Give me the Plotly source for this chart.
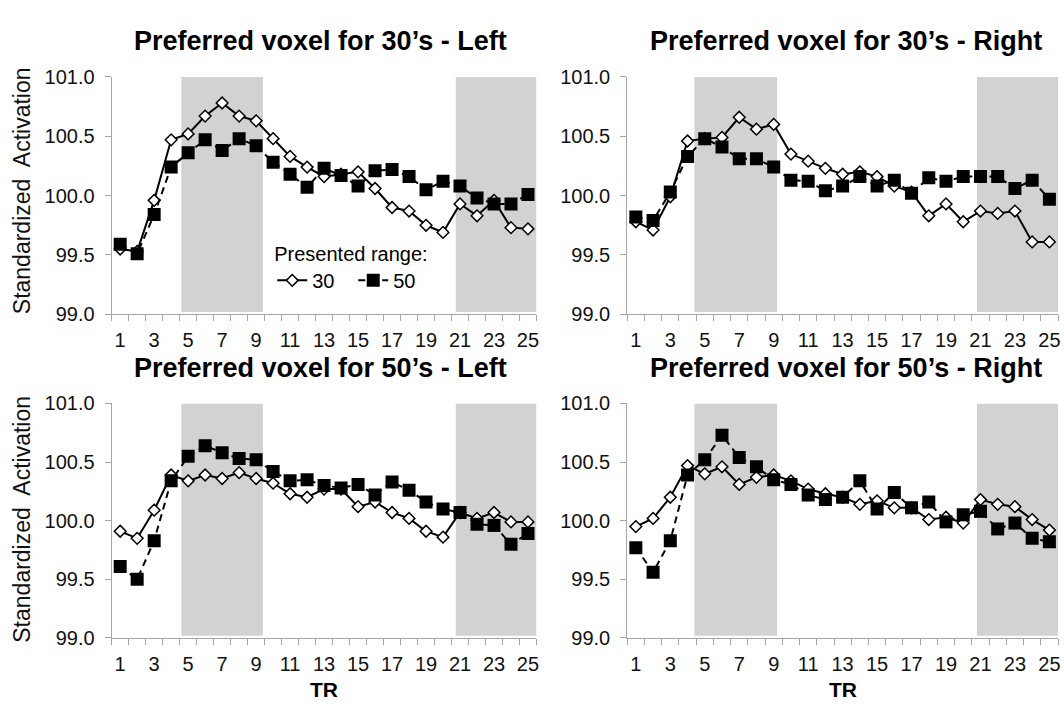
import plotly.graph_objects as go

TR = list(range(1, 26))

# Preferred voxel for 30's - Left
p1_30 = [99.55, 99.53, 99.96, 100.47, 100.52, 100.67, 100.78, 100.67, 100.63, 100.48,
         100.33, 100.24, 100.16, 100.18, 100.20, 100.06, 99.90, 99.87, 99.75, 99.69,
         99.93, 99.83, 99.96, 99.73, 99.72]
p1_50 = [99.59, 99.51, 99.84, 100.24, 100.36, 100.47, 100.38, 100.48, 100.42, 100.28,
         100.18, 100.07, 100.23, 100.17, 100.08, 100.21, 100.22, 100.16, 100.05, 100.12,
         100.08, 99.98, 99.93, 99.93, 100.01]
# Preferred voxel for 30's - Right
p2_30 = [99.78, 99.71, 99.99, 100.46, 100.48, 100.49, 100.66, 100.56, 100.60, 100.35,
         100.29, 100.23, 100.18, 100.20, 100.16, 100.08, 100.03, 99.83, 99.93, 99.78,
         99.87, 99.85, 99.87, 99.61, 99.61]
p2_50 = [99.82, 99.79, 100.03, 100.33, 100.48, 100.41, 100.31, 100.31, 100.24, 100.13,
         100.12, 100.04, 100.08, 100.16, 100.08, 100.13, 100.02, 100.15, 100.12, 100.16,
         100.16, 100.16, 100.06, 100.13, 99.97]
# Preferred voxel for 50's - Left
p3_30 = [99.91, 99.85, 100.09, 100.39, 100.34, 100.39, 100.36, 100.41, 100.36, 100.32,
         100.23, 100.20, 100.27, 100.27, 100.12, 100.16, 100.07, 100.02, 99.91, 99.86,
         100.07, 100.02, 100.07, 99.99, 99.99]
p3_50 = [99.61, 99.50, 99.83, 100.34, 100.55, 100.64, 100.58, 100.53, 100.52, 100.42,
         100.34, 100.35, 100.30, 100.28, 100.31, 100.22, 100.33, 100.26, 100.16, 100.10,
         100.07, 99.97, 99.96, 99.80, 99.89]
# Preferred voxel for 50's - Right
p4_30 = [99.95, 100.02, 100.20, 100.47, 100.40, 100.46, 100.31, 100.37, 100.39, 100.34,
         100.27, 100.23, 100.20, 100.14, 100.17, 100.11, 100.11, 100.01, 100.03, 99.98,
         100.18, 100.14, 100.12, 100.01, 99.92]
p4_50 = [99.77, 99.56, 99.83, 100.39, 100.52, 100.73, 100.54, 100.46, 100.35, 100.31,
         100.22, 100.18, 100.20, 100.34, 100.10, 100.24, 100.11, 100.16, 99.99, 100.05,
         100.08, 99.93, 99.98, 99.85, 99.82]

titles = ["Preferred voxel for 30\u2019s - Left", "Preferred voxel for 30\u2019s - Right",
          "Preferred voxel for 50\u2019s - Left", "Preferred voxel for 50\u2019s - Right"]
series_30 = [p1_30, p2_30, p3_30, p4_30]
series_50 = [p1_50, p2_50, p3_50, p4_50]

# shaded stimulus windows (TR units) per panel
shade_left = [(4.6, 9.4), (20.75, 25.5)]
shade_right = [(4.4, 9.2), (20.8, 25.5)]
shades = [shade_left, shade_right, shade_left, shade_right]

y_ticks = [99.0, 99.5, 100.0, 100.5, 101.0]

FONT = "Liberation Sans, Arial, sans-serif"
AX = "#a6a6a6"
SHADE = "#d2d2d2"

W, H = 1064, 711
xdom = [[112 / W, 538 / W], [629 / W, 1061 / W]]
ydom = [[1 - 313 / H, 1 - 68 / H], [1 - 647 / H, 1 - 405 / H]]

fig = go.Figure()
layout = dict(
    width=W, height=H,
    margin=dict(l=0, r=0, t=0, b=0),
    paper_bgcolor="white", plot_bgcolor="white",
    font=dict(family=FONT, color="black", size=20),
    showlegend=True,
    legend=dict(
        title=dict(text="Presented range:", side="top", font=dict(size=20)),
        orientation="h", x=273 / W, xanchor="left", y=1 - 231 / H, yanchor="top",
        bgcolor="rgba(0,0,0,0)", font=dict(size=20), itemwidth=30,
        tracegroupgap=0, entrywidthmode="pixels", entrywidth=36,
    ),
)

annotations = []
shapes = []
for i in range(4):
    r, c = divmod(i, 2)
    n = i + 1
    xa = "x" if n == 1 else f"x{n}"
    ya = "y" if n == 1 else f"y{n}"
    first = (i == 0)
    fig.add_trace(go.Scatter(
        x=TR, y=series_30[i], mode="lines+markers", name="30",
        xaxis=xa, yaxis=ya, showlegend=first, legendrank=1,
        line=dict(color="black", width=2),
        marker=dict(symbol="diamond", size=9, color="white",
                    line=dict(color="black", width=1.5)),
    ))
    fig.add_trace(go.Scatter(
        x=TR, y=series_50[i], mode="lines+markers", name="50",
        xaxis=xa, yaxis=ya, showlegend=first, legendrank=2,
        line=dict(color="black", width=2, dash="7px,5px"),
        marker=dict(symbol="square", size=13, color="black",
                    line=dict(color="black", width=0)),
    ))
    layout["xaxis" if n == 1 else f"xaxis{n}"] = dict(
        domain=xdom[c], anchor=ya, range=[0.5, 25.5],
        tickmode="linear", tick0=1, dtick=2,
        ticks="outside", ticklen=0, tickcolor=AX,
        ticklabelstandoff=8,
        minor=dict(ticks="outside", tick0=0.5, dtick=1, ticklen=6,
                   tickcolor=AX, tickwidth=1),
        showline=True, linecolor=AX, linewidth=1,
        showgrid=False, zeroline=False,
        tickfont=dict(size=20, color="#111"),
        fixedrange=True,
    )
    layout["yaxis" if n == 1 else f"yaxis{n}"] = dict(
        domain=ydom[r], anchor=xa, range=[99.0, 101.0],
        tickmode="array", tickvals=y_ticks, tickformat=".1f",
        ticks="outside", ticklen=6, tickcolor=AX,
        ticklabelstandoff=6,
        showline=True, linecolor=AX, linewidth=1,
        showgrid=False, zeroline=False,
        tickfont=dict(size=20, color="#111"),
        fixedrange=True,
    )
    for (a, b) in shades[i]:
        shapes.append(dict(type="rect", xref=xa, yref=ya, x0=a, x1=b,
                           y0=99.02, y1=101.0, fillcolor=SHADE,
                           line=dict(width=0), layer="below"))
    tx = [321.5 / W, 848 / W][c]
    ty = [1 - 31 / H, 1 - 368 / H][r]
    annotations.append(dict(text=f"<b>{titles[i]}</b>", x=tx, y=ty,
                            xref="paper", yref="paper", showarrow=False,
                            xanchor="center", yanchor="middle",
                            font=dict(size=27, color="black")))

# y-axis titles (left column)
for yc in [1 - 185 / H, 1 - 524 / H]:
    annotations.append(dict(text="Standardized  Activation", x=22 / W, y=yc,
                            xref="paper", yref="paper", showarrow=False,
                            textangle=-90, xanchor="center", yanchor="middle",
                            font=dict(size=23, color="#111")))
# x-axis titles (bottom row)
for xc in [325 / W, 845 / W]:
    annotations.append(dict(text="<b>TR</b>", x=xc, y=1 - 700 / H,
                            xref="paper", yref="paper", showarrow=False,
                            xanchor="center", yanchor="middle",
                            font=dict(size=21, color="black")))

layout["annotations"] = annotations
layout["shapes"] = shapes
fig.update_layout(**layout)
fig.write_html("out.html")
